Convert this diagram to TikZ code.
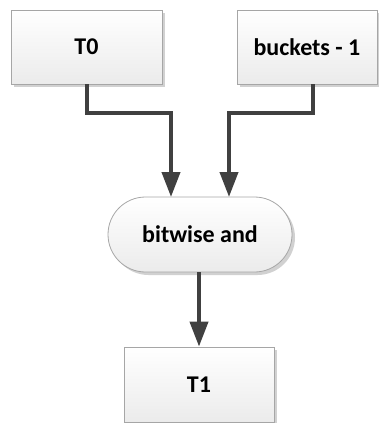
\documentclass[tikz,border=0pt]{standalone}
\usepackage{fontspec}
\setmainfont{Carlito}
\usetikzlibrary{arrows.meta,shapes.misc,shadows}
\definecolor{edgegray}{HTML}{A6A6A6}
\definecolor{linegray}{HTML}{404040}
\definecolor{fillA}{HTML}{FFFFFF}
\definecolor{fillB}{HTML}{EBEBEB}
\tikzset{
  box/.style={draw=edgegray, line width=0.8pt, top color=fillA, bottom color=fillB,
    font=\bfseries\fontsize{24}{28}\selectfont, text=black, inner sep=0pt,
    drop shadow={shadow xshift=3pt, shadow yshift=-3pt, fill=black!18, opacity=1}},
  conn/.style={draw=linegray, line width=4pt, -{Triangle[width=18pt,length=25pt]}}
}
\begin{document}
\begin{tikzpicture}[x=1pt,y=-1pt]
\useasboundingbox (0,0) rectangle (379,423);
\node[box, minimum width=151pt, minimum height=74pt] (t0) at (86.5,47) {T0};
\node[box, minimum width=140pt, minimum height=74pt] (bk) at (307,47) {buckets - 1};
\node[box, rounded rectangle, minimum width=184pt, minimum height=75pt] (and) at (200,234.5) {bitwise and};
\node[box, minimum width=150pt, minimum height=75pt] (t1) at (199,384.5) {T1};
\draw[conn] (t0.south -| 87,0) |- (171,113) -- (171,197);
\draw[conn] (bk.south -| 313,0) |- (229,113) -- (229,197);
\draw[conn] (and.south -| 199,0) -- (t1.north -| 199,0);
\end{tikzpicture}
\end{document}
